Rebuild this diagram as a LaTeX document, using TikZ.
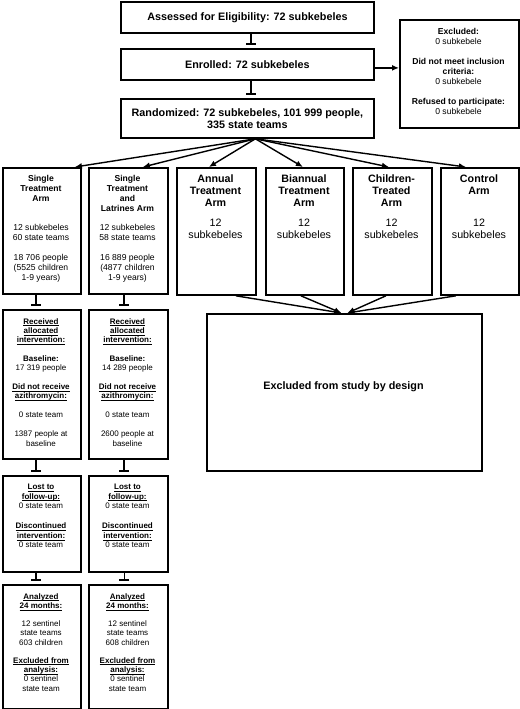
\documentclass[tikz,border=0pt]{standalone}
\usepackage{fontspec}
\setmainfont{Liberation Sans}
\usetikzlibrary{arrows.meta}
\newcommand\fntBig{\fontsize{10.8bp}{12.5bp}\selectfont\bfseries}
\newcommand\fntArm{\fontsize{10.7bp}{12bp}\selectfont}
\newcommand\fntMid{\fontsize{8.6bp}{10bp}\selectfont}
\newcommand\fntSml{\fontsize{8bp}{9.4bp}\selectfont}
\newsavebox\ubbox
\newcommand\ub[1]{\sbox\ubbox{\textbf{#1}}\smash{\rlap{\vrule width\wd\ubbox height -1.2bp depth 1.9bp}}\usebox\ubbox}
\begin{document}
\begin{tikzpicture}[x=1bp,y=-1bp,
 box/.style={draw, line width=1.8bp, inner sep=0, anchor=north west},
 txt/.style={inner sep=0, align=center, anchor=north},
 arr/.style={-{Latex[length=7bp,width=6bp]}, line width=1.4bp},
 tee/.style={-{Bar[width=10bp,line width=1.8bp]}, line width=1.6bp, shorten >=3bp},
]
\useasboundingbox (0,0) rectangle (520,709);

% top boxes
\node[box, minimum width=253bp, minimum height=31bp, font=\fntBig] (assess) at (120,1) {Assessed for Eligibility: 72 subkebeles};
\node[box, minimum width=253bp, minimum height=31bp, font=\fntBig] (enrol) at (120,48) {Enrolled: 72 subkebeles};
\node[box, minimum width=253bp, minimum height=39bp, font=\fntBig, align=center] (rand) at (120,98) {Randomized: 72 subkebeles, 101 999 people,\\ 335 state teams};
\node[box, minimum width=119bp, minimum height=108bp] (excl) at (399,19) {};
\node[txt, font=\fntMid] (exclt) at (458.5,27.8) {\textbf{Excluded:}\\ 0 subkebele\\[10bp] \textbf{Did not meet inclusion}\\ \textbf{criteria:}\\ 0 subkebele\\[10bp] \textbf{Refused to participate:}\\ 0 subkebele};

% arms
\node[box, minimum width=78bp, minimum height=126bp] (arm1) at (2,167) {};
\node[box, minimum width=79bp, minimum height=126bp] (arm2) at (88,167) {};
\node[box, minimum width=79bp, minimum height=127bp] (arm3) at (176,167) {};
\node[box, minimum width=78bp, minimum height=127bp] (arm4) at (265,167) {};
\node[box, minimum width=79bp, minimum height=127bp] (arm5) at (352,167) {};
\node[box, minimum width=78bp, minimum height=127bp] (arm6) at (440,167) {};

\node[txt, font=\fntMid\bfseries] (arm1h) at (41,174.8) {Single\\ Treatment\\ Arm};
\node[txt, font=\fntMid] (arm1b) at (41,223.8) {12 subkebeles\\ 60 state teams\\[10bp] 18 706 people\\ (5525 children\\ 1-9 years)};
\node[txt, font=\fntMid\bfseries] (arm2h) at (127.5,174.8) {Single\\ Treatment\\ and\\ Latrines Arm};
\node[txt, font=\fntMid] (arm2b) at (127.5,223.8) {12 subkebeles\\ 58 state teams\\[10bp] 16 889 people\\ (4877 children\\ 1-9 years)};

\node[txt, font=\fntArm\bfseries] (arm3h) at (215.5,175) {Annual\\ Treatment\\ Arm};
\node[txt, font=\fntArm] (arm3b) at (215.5,219) {12\\ subkebeles};
\node[txt, font=\fntArm\bfseries] (arm4h) at (304,175) {Biannual\\ Treatment\\ Arm};
\node[txt, font=\fntArm] (arm4b) at (304,219) {12\\ subkebeles};
\node[txt, font=\fntArm\bfseries] (arm5h) at (391.5,175) {Children-\\ Treated\\ Arm};
\node[txt, font=\fntArm] (arm5b) at (391.5,219) {12\\ subkebeles};
\node[txt, font=\fntArm\bfseries] (arm6h) at (479,175) {Control\\ Arm};
\node[txt, font=\fntArm] (arm6b) at (479,219) {12\\ subkebeles};

% excluded by design
\node[box, minimum width=275bp, minimum height=157bp] (design) at (206,313) {};
\node[inner sep=0, font=\fntBig] (designt) at (343.5,387) {Excluded from study by design};

% lower columns
\node[box, minimum width=78bp, minimum height=149bp] (recv1) at (2,309) {};
\node[box, minimum width=79bp, minimum height=149bp] (recv2) at (88,309) {};
\node[box, minimum width=78bp, minimum height=96bp] (lost1) at (2,475) {};
\node[box, minimum width=79bp, minimum height=96bp] (lost2) at (88,475) {};
\node[box, minimum width=78bp, minimum height=124bp] (anal1) at (2,584) {};
\node[box, minimum width=79bp, minimum height=124bp] (anal2) at (88,584) {};

\node[txt, font=\fntSml] (recv1t) at (41,318) {\ub{Received}\\ \ub{allocated}\\ \ub{intervention:}\\[9bp] \textbf{Baseline:}\\ 17 319 people\\[9.5bp] \ub{Did not receive}\\ \ub{azithromycin:}\\[9.5bp] 0 state team\\[9.5bp] 1387 people at\\ baseline};
\node[txt, font=\fntSml] (recv2t) at (127.5,318) {\ub{Received}\\ \ub{allocated}\\ \ub{intervention:}\\[9bp] \textbf{Baseline:}\\ 14 289 people\\[9.5bp] \ub{Did not receive}\\ \ub{azithromycin:}\\[9.5bp] 0 state team\\[9.5bp] 2600 people at\\ baseline};
\node[txt, font=\fntSml] (lost1t) at (41,484) {\ub{Lost to}\\ \ub{follow-up:}\\ 0 state team\\[11bp] \ub{Discontinued}\\ \ub{intervention:}\\ 0 state team};
\node[txt, font=\fntSml] (lost2t) at (127.5,484) {\ub{Lost to}\\ \ub{follow-up:}\\ 0 state team\\[11bp] \ub{Discontinued}\\ \ub{intervention:}\\ 0 state team};
\node[txt, font=\fntSml] (anal1t) at (41,593) {\ub{Analyzed}\\ \ub{24 months:}\\[8.5bp] 12 sentinel\\ state teams\\ 603 children\\[8.5bp] \ub{Excluded from}\\ \ub{analysis:}\\ 0 sentinel\\ state team};
\node[txt, font=\fntSml] (anal2t) at (127.5,593) {\ub{Analyzed}\\ \ub{24 months:}\\[8.5bp] 12 sentinel\\ state teams\\ 608 children\\[8.5bp] \ub{Excluded from}\\ \ub{analysis:}\\ 0 sentinel\\ state team};

% connectors
\draw[tee] ([xshift=3.5bp]assess.south) -- ([xshift=3.5bp]enrol.north);
\draw[tee] ([xshift=3.5bp]enrol.south) -- ([xshift=3.5bp]rand.north);
\draw[arr, line width=2.4bp] ([yshift=-3.5bp]enrol.east) -- ([yshift=-3.5bp]enrol.east -| excl.west);

\draw[arr] ([xshift=8bp]rand.south) -- ([xshift=33bp]arm1.north);
\draw[arr] ([xshift=8bp]rand.south) -- ([xshift=14.5bp]arm2.north);
\draw[arr] ([xshift=8bp]rand.south) -- ([xshift=-7.5bp]arm3.north);
\draw[arr] ([xshift=8bp]rand.south) -- ([xshift=-2bp]arm4.north);
\draw[arr] ([xshift=8bp]rand.south) -- ([xshift=-3.5bp]arm5.north);
\draw[arr] ([xshift=8bp]rand.south) -- ([xshift=-14bp]arm6.north);

\draw[arr] ([xshift=19.5bp]arm3.south) -- ([xshift=-3bp]design.north);
\draw[arr] ([xshift=-4bp]arm4.south) -- ([xshift=-3bp]design.north);
\draw[arr] ([xshift=-6.5bp]arm5.south) -- ([xshift=3bp]design.north);
\draw[arr] ([xshift=-24bp]arm6.south) -- ([xshift=3bp]design.north);

\draw[tee] ([xshift=-6bp]arm1.south) -- ([xshift=-6bp]recv1.north);
\draw[tee] ([xshift=-4.5bp]arm2.south) -- ([xshift=-4.5bp]recv2.north);
\draw[tee] ([xshift=-6bp]recv1.south) -- ([xshift=-6bp]lost1.north);
\draw[tee] ([xshift=-4.5bp]recv2.south) -- ([xshift=-4.5bp]lost2.north);
\draw[tee] ([xshift=-6bp]lost1.south) -- ([xshift=-6bp]anal1.north);
\draw[tee] ([xshift=-4bp]lost2.south) -- ([xshift=-4bp]anal2.north);
\end{tikzpicture}
\end{document}
